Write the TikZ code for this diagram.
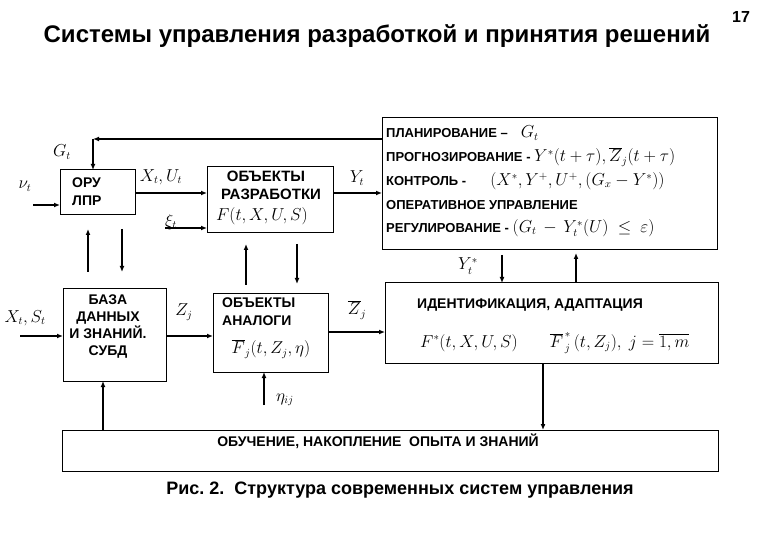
\documentclass[tikz,border=0pt]{standalone}
\usepackage{fontspec}
\setmainfont{Liberation Sans}
\usetikzlibrary{arrows.meta}
\frenchspacing
\begin{document}
\begin{tikzpicture}[x=1pt,y=-1pt,
  box/.style={draw, line width=1pt, outer sep=0pt, inner sep=0pt, anchor=north west},
  arr/.style={line width=1.4pt, -{Latex[length=6pt,width=5pt]}},
  lbl/.style={font=\fontsize{14}{16}\selectfont\bfseries, inner sep=0pt},
  rlbl/.style={font=\fontsize{13}{15}\selectfont\bfseries, inner sep=0pt, anchor=west},
  ml/.style={font=\fontsize{16}{18}\selectfont, inner sep=0pt}]
\useasboundingbox (0,0) rectangle (766,540);
% title
\node[font=\fontsize{24}{28}\selectfont\bfseries, inner sep=0pt] (title) at (377,36) {Системы управления разработкой и принятия решений};
\node[font=\fontsize{16}{18}\selectfont\bfseries, inner sep=0pt] (pnum) at (741,17) {17};
% boxes
\node[box, minimum width=75, minimum height=45] (oru) at (60,170) {};
\node[box, minimum width=126, minimum height=66] (obr) at (207,167) {};
\node[box, minimum width=335, minimum height=132] (ctl) at (382,118) {};
\node[box, minimum width=103, minimum height=93] (baza) at (63,288) {};
\node[box, minimum width=115, minimum height=79] (anal) at (213,293) {};
\node[box, minimum width=333, minimum height=80] (ident) at (385,283) {};
\node[box, minimum width=656, minimum height=41] (obuch) at (62,430) {};
% box texts
\node[lbl, anchor=west] (t1) at (72,183) {ОРУ};
\node[lbl, anchor=west] (t2) at (72,201) {ЛПР};
\node[lbl, font=\fontsize{15}{17}\selectfont\bfseries] (t3) at (266,176) {ОБЪЕКТЫ};
\node[lbl, font=\fontsize{15}{17}\selectfont\bfseries] (t4) at (271,194) {РАЗРАБОТКИ};
\node[ml] (t5) at (262,216) {$F(t,X,U,S)$};
\node[rlbl] (c1) at (386,133) {ПЛАНИРОВАНИЕ –\quad\fontsize{16}{18}\selectfont$G_t$};
\node[rlbl] (c2) at (386,157) {ПРОГНОЗИРОВАНИЕ - \fontsize{16}{18}\selectfont$Y^*(t+\tau),\overline{Z}_j(t+\tau)$};
\node[rlbl] (c3) at (386,181) {КОНТРОЛЬ -\hspace*{24pt}\fontsize{16}{18}\selectfont$(X^*,Y^+,U^+,(G_x-Y^*))$};
\node[rlbl] (c4) at (386,205) {ОПЕРАТИВНОЕ УПРАВЛЕНИЕ};
\node[rlbl] (c5) at (386,228) {РЕГУЛИРОВАНИЕ - \fontsize{16}{18}\selectfont$(G_t\,-\,Y_t^*(U)\ \le\ \varepsilon)$};
\node[lbl, align=center] (b1) at (108,327) {БАЗА\\[1pt]ДАННЫХ\\[1pt]И ЗНАНИЙ.\\[1pt]СУБД};
\node[lbl, anchor=west] (a1) at (222,303) {ОБЪЕКТЫ};
\node[lbl, anchor=west] (a2) at (222,321) {АНАЛОГИ};
\node[ml] (a3) at (271,349) {$\overline{F}_j(t,Z_j,\eta)$};
\node[lbl] (i1) at (530,305) {ИДЕНТИФИКАЦИЯ, АДАПТАЦИЯ};
\node[ml, anchor=west] (i2) at (420,343) {$F^*(t,X,U,S)\qquad \overline{F}^{\,*}_{\,j}\,(t,Z_j),\ j=\overline{1,m}$};
\node[lbl] (o1) at (378,441) {ОБУЧЕНИЕ, НАКОПЛЕНИЕ \ ОПЫТА И ЗНАНИЙ};
% caption
\node[font=\fontsize{18}{21}\selectfont\bfseries, inner sep=0pt] (cap) at (400,490) {Рис. 2. \ Структура современных систем управления};
% connector labels
\node[ml] (lG) at (62,152) {$G_t$};
\node[ml] (lnu) at (25,186) {$\nu_t$};
\node[ml] (lXU) at (161,177) {$X_t,U_t$};
\node[ml] (lxi) at (171,222) {$\xi_t$};
\node[ml] (lY) at (357,178) {$Y_t$};
\node[ml] (lXS) at (25,318) {$X_t,S_t$};
\node[ml] (lZ) at (184,312) {$Z_j$};
\node[ml] (lZb) at (357,310) {$\overline{Z}_j$};
\node[ml] (leta) at (285,400) {$\eta_{ij}$};
\node[ml] (lYs) at (468,266) {$Y_t^*$};
% connectors
\coordinate (fb) at (93,139);
\draw[arr] (ctl.west |- fb) -- (fb);
\draw[arr] (fb) -- (fb |- oru.north);
\coordinate (nu) at (33,205);
\draw[arr] (nu) -- (nu -| oru.west);
\coordinate (xu) at (135,193);
\draw[arr] (xu) -- (xu -| obr.west);
\coordinate (xi) at (165,228);
\draw[arr] (xi) -- (xi -| obr.west);
\draw[arr] (obr.east |- xu) -- (ctl.west |- xu);
% ORU <-> BAZA
\coordinate (ob1a) at (88,272); \coordinate (ob1b) at (88,229);
\draw[arr] (ob1a) -- (ob1b);
\coordinate (ob2a) at (122,229); \coordinate (ob2b) at (122,272);
\draw[arr] (ob2a) -- (ob2b);
% OBR <-> ANAL
\coordinate (oa1a) at (246,285); \coordinate (oa1b) at (246,244);
\draw[arr] (oa1a) -- (oa1b);
\coordinate (oa2a) at (297,244); \coordinate (oa2b) at (297,284);
\draw[arr] (oa2a) -- (oa2b);
% inputs to BAZA
\coordinate (xs) at (20,336);
\draw[arr] (xs) -- (xs -| baza.west);
\draw[arr] (baza.east |- xs) -- (anal.west |- xs);
\coordinate (zb) at (328,332);
\draw[arr] (zb) -- (zb -| ident.west);
\coordinate (eta) at (264,405);
\draw[arr] (eta) -- (eta |- anal.south);
% CTL <-> IDENT
\coordinate (ci1) at (502,255);
\draw[arr] (ci1) -- (ci1 |- ident.north);
\coordinate (ci2) at (576,283);
\draw[arr] (ci2) -- (576,253);
% IDENT -> OBUCH
\coordinate (io) at (543,363);
\draw[arr] (io) -- (io |- obuch.north);
% OBUCH -> BAZA
\coordinate (ob) at (103,430);
\draw[arr] (ob) -- (ob |- baza.south);
\end{tikzpicture}
\end{document}
